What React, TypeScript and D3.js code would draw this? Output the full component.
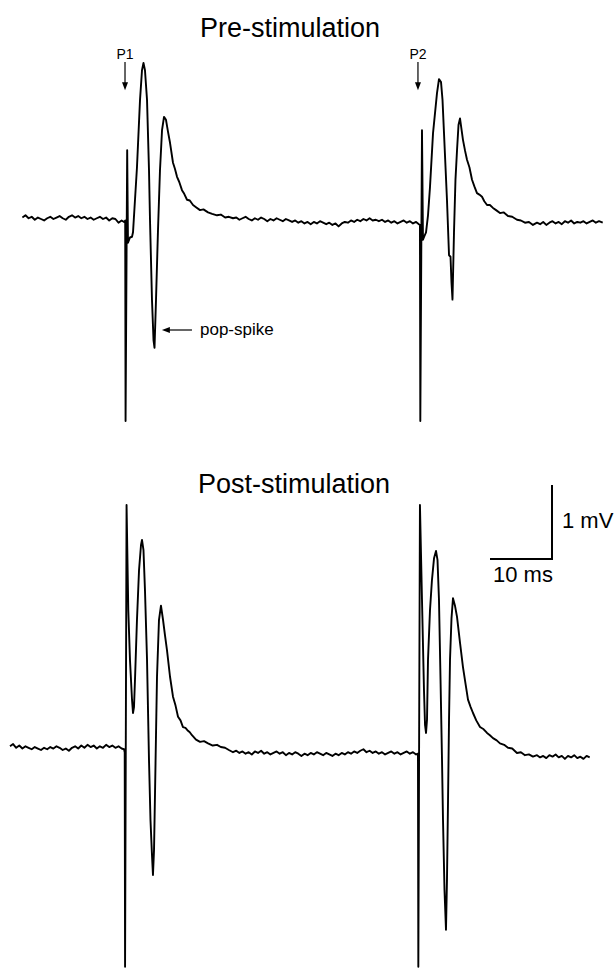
import * as d3 from "d3";
import React, { useRef, useEffect } from "react";

const width = 616;
const height = 969;

// field potential traces, [time (ms), potential (mV)]
const preTrace: [number, number][] = [
  [2.0, 0.02], [2.5, 0.05], [3.0, 0.01], [3.5, 0.03], [4.0, -0.01], [4.5, 0.02], [5.0, 0.0], [5.5, -0.02],
  [6.0, 0.01], [6.5, 0.03], [7.0, 0.0], [7.5, 0.02], [8.0, 0.04], [8.5, 0.01], [9.0, -0.01], [9.5, 0.03],
  [10.0, 0.05], [10.5, 0.02], [11.0, 0.04], [11.5, 0.01], [12.0, 0.03], [12.5, 0.0], [13.0, 0.02], [13.5, -0.01],
  [14.0, 0.01], [14.5, 0.03], [15.0, 0.0], [15.5, 0.02], [16.0, -0.02], [16.5, 0.01], [17.0, 0.0], [17.5, -0.05],
  [18.0, -0.02], [18.4, -0.04],
  // P1 response
  [18.58, -0.02], [18.64, -2.73], [18.9, 0.93], [19.03, -0.32], [19.35, -0.25], [19.68, -0.24], [19.84, -0.18],
  [20.16, 0.26], [20.48, 0.7], [20.97, 1.61], [21.29, 2.01], [21.53, 2.11], [21.77, 2.01], [22.1, 1.61],
  [22.42, 0.66], [22.58, -0.01], [22.9, -1.09], [23.15, -1.64], [23.31, -1.74], [23.55, -1.09], [23.87, -0.15],
  [24.19, 0.66], [24.52, 1.2], [24.84, 1.38], [25.16, 1.34], [25.48, 1.18], [25.81, 1.03], [26.29, 0.76],
  [26.6, 0.68], [26.94, 0.57], [27.3, 0.5], [27.74, 0.39], [28.1, 0.34], [28.55, 0.26], [29.0, 0.25],
  [29.52, 0.19], [30.0, 0.16], [30.65, 0.12], [31.2, 0.13], [31.94, 0.09], [32.6, 0.07], [33.39, 0.05],
  [34.0, 0.06], [34.7, 0.02], [35.3, 0.03], [35.97, 0.01],
  [36.5, 0.02], [37.0, -0.01], [37.5, 0.01], [38.0, 0.03], [38.5, 0.0], [39.0, -0.02], [39.5, 0.01], [40.0, -0.01],
  [40.5, 0.02], [41.0, 0.0], [41.5, -0.03], [42.0, 0.0], [42.5, -0.02], [43.0, 0.01], [43.5, -0.01], [44.0, -0.03],
  [44.5, 0.0], [45.0, -0.02], [45.5, -0.04], [46.0, -0.02], [46.5, -0.05], [47.0, -0.03], [47.5, -0.06], [48.0, -0.04],
  [48.5, -0.07], [49.0, -0.04], [49.5, -0.06], [50.0, -0.03], [50.5, -0.05], [51.0, -0.07], [51.5, -0.05], [52.0, -0.08],
  [52.5, -0.06], [53.0, -0.1], [53.5, -0.06], [54.0, -0.04], [54.5, -0.05], [55.0, -0.02], [55.5, -0.04], [56.0, -0.01],
  [56.5, -0.03], [57.0, 0.0], [57.5, -0.02], [58.0, 0.01], [58.5, -0.02], [59.0, -0.01], [59.5, -0.03], [60.0, -0.01],
  [60.5, -0.04], [61.0, -0.02], [61.5, -0.05], [62.0, -0.03], [62.5, -0.06], [63.0, -0.04], [63.5, -0.02], [64.0, -0.05],
  [64.5, -0.03], [65.0, -0.06], [65.5, -0.04], [65.95, -0.07],
  // P2 response
  [66.12, -0.08], [66.18, -2.73], [66.45, 1.2], [66.61, -0.28], [66.85, -0.23], [67.1, -0.18], [67.42, 0.05],
  [67.74, 0.43], [68.23, 1.16], [68.87, 1.7], [69.19, 1.89], [69.52, 1.85], [69.76, 1.61], [70.0, 1.16],
  [70.48, 0.26], [70.81, -0.49], [71.05, -0.51], [71.21, -0.86], [71.37, -1.09], [71.61, -0.19], [71.85, 0.53],
  [72.1, 0.93], [72.34, 1.27], [72.58, 1.36], [73.06, 1.07], [73.4, 0.92], [73.71, 0.8], [74.1, 0.7],
  [74.52, 0.53], [74.9, 0.44], [75.32, 0.35], [75.7, 0.33], [76.13, 0.3], [76.5, 0.24], [76.94, 0.19],
  [77.4, 0.19], [77.9, 0.15], [78.4, 0.12], [79.03, 0.08], [79.6, 0.09], [80.32, 0.04], [81.0, 0.03],
  [81.77, -0.01], [82.4, -0.02], [83.06, -0.05], [83.7, -0.04], [84.35, -0.08],
  [85.0, -0.05], [85.5, -0.07], [86.0, -0.04], [86.5, -0.08], [87.0, -0.05], [87.5, -0.03], [88.0, -0.06], [88.5, -0.04],
  [89.0, -0.07], [89.5, -0.03], [90.0, -0.05], [90.5, -0.02], [91.0, -0.06], [91.5, -0.04], [92.0, -0.05], [92.5, -0.03],
  [93.0, -0.06], [93.5, -0.04], [94.0, -0.02], [94.5, -0.05], [95.0, -0.03], [95.6, -0.05],
];

const postTrace: [number, number][] = [
  [0.0, 0.05], [0.5, 0.08], [1.0, 0.03], [1.5, 0.06], [2.0, 0.02], [2.5, 0.05], [3.0, 0.03], [3.5, 0.01],
  [4.0, 0.04], [4.5, 0.02], [5.0, 0.0], [5.5, 0.03], [6.0, 0.01], [6.5, 0.04], [7.0, 0.02], [7.5, 0.05],
  [8.0, 0.03], [8.5, 0.0], [9.0, 0.02], [9.5, -0.01], [10.0, 0.03], [10.5, 0.05], [11.0, 0.02], [11.5, 0.06],
  [12.0, 0.03], [12.5, 0.07], [13.0, 0.04], [13.5, 0.06], [14.0, 0.02], [14.5, 0.05], [15.0, 0.03], [15.5, 0.07],
  [16.0, 0.04], [16.5, 0.06], [17.0, 0.03], [17.5, 0.05], [18.0, 0.02],
  // P1 response
  [18.39, 0.01], [18.5, -0.03], [18.56, -2.93], [18.8, 3.31], [19.08, 1.89], [19.35, 1.22], [19.68, 0.68],
  [19.84, 0.5], [20.0, 0.58], [20.16, 0.95], [20.48, 1.76], [20.81, 2.43], [21.13, 2.77], [21.29, 2.84],
  [21.53, 2.7], [21.77, 2.16], [22.1, 1.22], [22.42, -0.14], [22.66, -0.95], [22.9, -1.42], [23.06, -1.69],
  [23.23, -1.35], [23.39, -0.58], [23.71, 0.99], [24.03, 1.76], [24.35, 1.95], [24.68, 1.76], [25.0, 1.55],
  [25.32, 1.35], [25.81, 0.99], [26.29, 0.72], [26.7, 0.6], [27.1, 0.45], [27.5, 0.4], [27.9, 0.31],
  [28.3, 0.3], [28.71, 0.26], [29.0, 0.24], [29.35, 0.2], [30.0, 0.14], [30.65, 0.11], [31.3, 0.12],
  [31.94, 0.09], [32.7, 0.06], [33.39, 0.07], [34.0, 0.04], [34.68, 0.03], [35.3, 0.0], [35.97, -0.03],
  [36.5, -0.01], [37.0, -0.04], [37.5, -0.02], [38.0, -0.05], [38.5, -0.03], [39.0, -0.06], [39.5, -0.02], [40.0, -0.04],
  [40.5, -0.01], [41.0, -0.05], [41.5, -0.03], [42.0, -0.06], [42.5, -0.04], [43.0, -0.02], [43.5, -0.05], [44.0, -0.03],
  [44.5, -0.07], [45.0, -0.04], [45.5, -0.06], [46.0, -0.03], [46.5, -0.05], [47.0, -0.08], [47.5, -0.05], [48.0, -0.07],
  [48.5, -0.04], [49.0, -0.06], [49.5, -0.03], [50.0, -0.05], [50.5, -0.07], [51.0, -0.04], [51.5, -0.06], [52.0, -0.08],
  [52.5, -0.05], [53.0, -0.07], [53.5, -0.04], [54.0, -0.06], [54.5, -0.03], [55.0, -0.05], [55.5, -0.02], [56.0, -0.04],
  [56.5, -0.01], [57.0, 0.01], [57.5, -0.03], [58.0, -0.01], [58.5, -0.04], [59.0, -0.02], [59.5, -0.05], [60.0, -0.03],
  [60.5, -0.06], [61.0, -0.04], [61.5, -0.02], [62.0, -0.05], [62.5, -0.03], [63.0, -0.06], [63.5, -0.04], [64.0, -0.02],
  [64.5, -0.05], [65.0, -0.03], [65.5, -0.06],
  // P2 response
  [65.8, -0.05], [65.86, -2.93], [66.12, 3.31], [66.45, 2.03], [66.77, 0.81], [66.94, 0.34], [67.1, 0.23],
  [67.26, 0.41], [67.42, 1.22], [67.74, 1.89], [68.06, 2.3], [68.39, 2.59], [68.71, 2.69], [68.95, 2.57],
  [69.19, 2.03], [69.44, 0.95], [69.68, -0.14], [69.84, -0.95], [70.08, -1.89], [70.32, -2.43], [70.48, -1.76],
  [70.65, -0.68], [70.81, 0.41], [70.97, 1.22], [71.21, 1.78], [71.45, 2.05], [71.77, 1.95], [72.1, 1.8],
  [72.58, 1.45], [73.06, 1.12], [73.5, 0.88], [73.87, 0.68], [74.3, 0.58], [74.68, 0.5], [75.2, 0.4],
  [75.81, 0.31], [76.4, 0.28], [76.94, 0.23], [77.4, 0.2], [77.9, 0.16], [78.5, 0.13], [79.03, 0.09],
  [79.7, 0.07], [80.32, 0.03], [81.0, 0.02], [81.77, -0.04], [82.4, -0.03], [83.06, -0.07], [83.7, -0.06],
  [84.35, -0.09],
  [85.0, -0.07], [85.5, -0.1], [86.0, -0.08], [86.5, -0.11], [87.0, -0.07], [87.5, -0.09], [88.0, -0.06], [88.5, -0.1],
  [89.0, -0.08], [89.5, -0.12], [90.0, -0.08], [90.5, -0.1], [91.0, -0.07], [91.5, -0.11], [92.0, -0.09], [92.5, -0.12],
  [93.0, -0.08], [93.5, -0.1],
];

const titles = ["Pre-stimulation", "Post-stimulation"];
const pulseLabels = ["P1", "P2"];
const pulseTimes = [18.55, 65.8]; // ms, where the stimulus arrows point
const popSpikeLabel = "pop-spike";
const popSpikeArrow = { from: 29.35, to: 24.5, mV: -1.5 };
const scaleBar = { ms: 10, mV: 1, cornerMs: 87.42, cornerMv: 2.58 };

const font = "'Liberation Sans', Arial, Helvetica, sans-serif";

function Traces() {
  const ref = useRef<SVGSVGElement>(null);

  useEffect(() => {
    const svg = d3.select(ref.current);
    svg.selectAll("*").remove();

    // 10 ms = 62 px, 1 mV = 74 px
    const x = d3.scaleLinear().domain([0, 10]).range([10, 72]);
    const yPre = d3.scaleLinear().domain([0, 1]).range([219, 145]);
    const yPost = d3.scaleLinear().domain([0, 1]).range([750, 676]);

    const panels = [
      { title: titles[0], data: preTrace, y: yPre, titleX: 290, titleY: 37 },
      { title: titles[1], data: postTrace, y: yPost, titleX: 294, titleY: 493 },
    ];

    panels.forEach((p) => {
      const line = d3
        .line<[number, number]>()
        .x((d) => x(d[0]))
        .y((d) => p.y(d[1]));

      svg
        .append("path")
        .datum(p.data)
        .attr("d", line)
        .attr("fill", "none")
        .attr("stroke", "#000")
        .attr("stroke-width", 1.9)
        .attr("stroke-linejoin", "round");

      svg
        .append("text")
        .attr("x", p.titleX)
        .attr("y", p.titleY)
        .attr("text-anchor", "middle")
        .style("font-family", font)
        .style("font-size", "27px")
        .text(p.title);
    });

    // stimulus arrows (pre only)
    pulseTimes.forEach((t, i) => {
      const px = x(t);
      const top = yPre(2.12);
      const tip = yPre(1.74);
      svg
        .append("line")
        .attr("x1", px)
        .attr("x2", px)
        .attr("y1", top)
        .attr("y2", tip - 6)
        .attr("stroke", "#000")
        .attr("stroke-width", 1.2);
      svg
        .append("path")
        .attr("d", `M${px - 3},${tip - 8}L${px + 3},${tip - 8}L${px},${tip}Z`)
        .attr("fill", "#000");
      svg
        .append("text")
        .attr("x", px)
        .attr("y", top - 3)
        .attr("text-anchor", "middle")
        .style("font-family", font)
        .style("font-size", "14px")
        .text(pulseLabels[i]);
    });

    // pop-spike arrow
    const ay = yPre(popSpikeArrow.mV);
    const ax0 = x(popSpikeArrow.from);
    const ax1 = x(popSpikeArrow.to);
    svg
      .append("line")
      .attr("x1", ax0)
      .attr("x2", ax1 + 6)
      .attr("y1", ay)
      .attr("y2", ay)
      .attr("stroke", "#000")
      .attr("stroke-width", 1.2);
    svg
      .append("path")
      .attr("d", `M${ax1 + 8},${ay - 3}L${ax1 + 8},${ay + 3}L${ax1},${ay}Z`)
      .attr("fill", "#000");
    svg
      .append("text")
      .attr("x", ax0 + 8)
      .attr("y", ay + 5)
      .style("font-family", font)
      .style("font-size", "17px")
      .text(popSpikeLabel);

    // scale bar
    const cx = x(scaleBar.cornerMs);
    const cy = yPost(scaleBar.cornerMv);
    const hx = x(scaleBar.cornerMs - scaleBar.ms);
    const vy = yPost(scaleBar.cornerMv + scaleBar.mV);
    svg
      .append("path")
      .attr("d", `M${hx},${cy}L${cx},${cy}L${cx},${vy}`)
      .attr("fill", "none")
      .attr("stroke", "#000")
      .attr("stroke-width", 2);
    svg
      .append("text")
      .attr("x", cx + 10)
      .attr("y", (cy + vy) / 2 + 6)
      .style("font-family", font)
      .style("font-size", "22px")
      .text(`${scaleBar.mV} mV`);
    svg
      .append("text")
      .attr("x", hx + 3)
      .attr("y", cy + 23)
      .style("font-family", font)
      .style("font-size", "22px")
      .text(`${scaleBar.ms} ms`);
  }, []);

  return <svg ref={ref} width={width} height={height} style={{ display: "block" }}></svg>;
}

export default function App() {
  return (
    <div style={{ position: "absolute", left: 0, top: 0, width, height, background: "#fff" }}>
      <Traces />
    </div>
  );
}
